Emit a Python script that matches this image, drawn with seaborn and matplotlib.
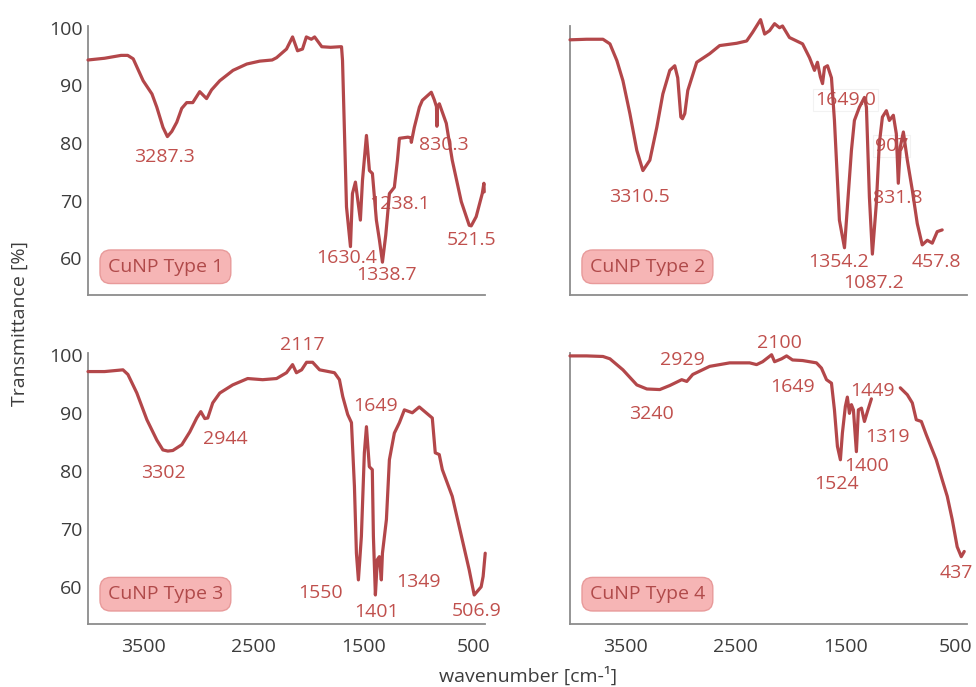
import matplotlib
matplotlib.use("Agg")
import matplotlib.pyplot as plt
import seaborn as sns
import pandas as pd

# ---------------- data ----------------
wn_type1 = [4000, 3850, 3700, 3640, 3590, 3500, 3420, 3376, 3320, 3280, 3240, 3195, 3150, 3105, 3050,
            2987, 2925, 2880, 2805, 2685, 2560, 2443, 2330, 2290, 2200, 2145, 2100, 2055, 2020, 1975,
            1945, 1880, 1800, 1715, 1701, 1692, 1656, 1620, 1602, 1575, 1530, 1511, 1475, 1448, 1421,
            1385, 1357, 1330, 1300, 1285, 1267, 1222, 1194, 1176, 1100, 1072, 1068, 1041, 995, 968,
            887, 860, 840, 836, 832, 814, 751, 697, 615, 543, 525, 480, 425, 410, 407]
tr_type1 = [94.4, 94.7, 95.2, 95.2, 94.6, 90.8, 88.5, 86.2, 82.7, 81.1, 82.0, 83.6, 86.0, 87.0, 87.0,
            88.9, 87.7, 89.2, 90.8, 92.6, 93.7, 94.2, 94.4, 94.8, 96.3, 98.4, 96.0, 96.3, 98.4, 98.0,
            98.4, 96.7, 96.6, 96.7, 96.7, 94.3, 68.9, 62.0, 71.2, 73.2, 66.6, 73.5, 81.3, 75.2, 74.7,
            66.6, 63.1, 59.3, 64.0, 67.2, 71.2, 72.3, 77.0, 80.8, 81.0, 80.9, 80.1, 82.7, 86.2, 87.4,
            88.8, 87.5, 86.3, 82.9, 86.3, 86.8, 83.4, 77.0, 69.8, 65.7, 65.6, 67.2, 71.2, 73.0, 71.5]

wn_type2 = [4000, 3850, 3701, 3638, 3575, 3520, 3457, 3394, 3339, 3276, 3213, 3158, 3095, 3050, 3023,
            2995, 2980, 2959, 2932, 2851, 2733, 2643, 2489, 2398, 2344, 2272, 2235, 2190, 2145, 2100,
            2073, 2010, 1891, 1828, 1783, 1756, 1730, 1710, 1692, 1665, 1629, 1602, 1557, 1511, 1448,
            1421, 1376, 1330, 1312, 1285, 1258, 1222, 1195, 1167, 1131, 1104, 1068, 1041, 1023, 1005,
            977, 941, 896, 851, 806, 760, 715, 670, 625]
tr_type2 = [97.9, 98.0, 98.0, 97.2, 94.3, 90.8, 85.1, 78.7, 75.2, 77.0, 82.7, 88.5, 92.6, 93.4, 91.3,
            84.5, 84.2, 85.1, 89.1, 94.0, 95.5, 96.9, 97.3, 97.7, 99.2, 101.4, 98.9, 99.5, 100.7, 100.0,
            100.3, 98.3, 97.2, 94.8, 92.6, 94.0, 91.5, 90.3, 93.1, 93.4, 91.3, 83.9, 66.6, 61.8, 78.7,
            83.9, 86.2, 87.9, 86.2, 70.6, 60.7, 69.5, 79.9, 84.5, 85.6, 83.9, 84.8, 81.6, 73.0, 79.3,
            81.9, 77.0, 71.8, 66.0, 62.3, 63.1, 62.6, 64.6, 64.9]

wn_type3 = [4000, 3850, 3683, 3638, 3557, 3466, 3376, 3321, 3276, 3231, 3149, 3077, 3014, 2977, 2941,
            2914, 2869, 2805, 2688, 2552, 2416, 2290, 2200, 2145, 2110, 2063, 2018, 1963, 1900, 1765,
            1720, 1690, 1645, 1611, 1584, 1566, 1548, 1521, 1494, 1475, 1449, 1422, 1412, 1394, 1376,
            1358, 1340, 1330, 1294, 1267, 1222, 1176, 1131, 1059, 996, 878, 851, 815, 787, 697,
            606, 543, 498, 435, 417, 398]
tr_type3 = [97.1, 97.1, 97.4, 96.6, 93.4, 88.8, 85.3, 83.6, 83.4, 83.5, 84.5, 86.7, 89.1, 90.2, 89.0,
            89.1, 91.7, 93.4, 94.8, 95.9, 95.7, 95.9, 96.9, 98.3, 96.9, 97.4, 98.7, 98.7, 97.4, 96.9,
            95.7, 92.8, 89.7, 88.3, 77.3, 65.8, 61.2, 68.7, 83.1, 87.6, 80.7, 80.2, 68.7, 58.6, 64.7,
            65.2, 61.2, 65.8, 71.6, 81.9, 86.5, 88.3, 90.5, 90.0, 91.0, 89.1, 83.1, 82.8, 80.2, 75.6,
            68.1, 62.9, 58.6, 60.0, 61.8, 65.8]

wn_type4 = [4000, 3850, 3701, 3638, 3520, 3394, 3303, 3186, 3095, 2987, 2941, 2887, 2733, 2552, 2371,
            2308, 2253, 2172, 2145, 2081, 2036, 1982, 1891, 1765, 1720, 1674, 1629, 1602, 1575, 1548,
            1530, 1503, 1485, 1466, 1448, 1430, 1403, 1385, 1357, 1330, 1303, 1267,
            1005, 941, 896, 860, 814, 769, 679, 624, 579, 534, 489, 452, 425]
tr_type4 = [99.8, 99.8, 99.7, 99.3, 97.4, 94.8, 94.1, 94.0, 94.7, 95.7, 95.4, 96.6, 98.0, 98.6, 98.6,
            98.3, 98.8, 100.0, 98.8, 99.3, 99.8, 99.1, 99.0, 98.6, 97.7, 95.7, 95.1, 90.5, 84.2, 81.9,
            86.5, 91.1, 92.7, 89.9, 91.4, 90.5, 83.3, 90.5, 90.8, 88.5, 90.2, 92.4,
            94.3, 93.1, 91.7, 88.8, 88.5, 86.2, 81.9, 78.4, 75.6, 71.6, 66.9, 65.2, 66.1]
seg_type4 = [0] * 42 + [1] * 13

names = ["CuNP Type 1", "CuNP Type 2", "CuNP Type 3", "CuNP Type 4"]

lab_type1 = ["3287.3", "830.3", "1238.1", "1630.4", "1338.7", "521.5"]
lab_wn_type1 = [3303, 769, 1176, 1656, 1294, 525]
lab_tr_type1 = [77.5, 79.6, 69.4, 60.0, 57.1, 63.1]

lab_type2 = ["3310.5", "1649.0", "907", "831.8", "1354.2", "1087.2", "457.8"]
lab_wn_type2 = [3366, 1502, 1086, 1032, 1566, 1249, 679]
lab_tr_type2 = [70.6, 87.4, 79.4, 70.4, 59.3, 55.7, 59.3]

lab_type3 = ["2117", "2944", "3302", "1649", "1550", "1401", "1349", "506.9"]
lab_wn_type3 = [2054, 2751, 3312, 1394, 1891, 1385, 1005, 480]
lab_tr_type3 = [101.7, 85.5, 79.6, 91.2, 58.9, 55.6, 60.8, 55.8]

lab_type4 = ["2100", "2929", "3240", "1649", "1449", "1319", "1400", "1524", "437"]
lab_wn_type4 = [2100, 2977, 3258, 1982, 1258, 1122, 1312, 1584, 500]
lab_tr_type4 = [102.1, 99.1, 89.8, 94.4, 93.8, 85.9, 80.9, 77.8, 62.4]

x_ticks = [3500, 2500, 1500, 500]
y_ticks = [60, 70, 80, 90, 100]

# ---------------- style ----------------
sns.set_theme(style="white")
plt.rcParams["font.family"] = ["Open Sans", "DejaVu Sans"]

LINE = "#b3474a"
ANNOT = "#c0504d"
TICK = "#3c3c3c"
SPINE = "#8c8c8c"

fig = plt.figure(figsize=(9.76, 6.87), dpi=100)
W, H = 976, 687
col_left = [88, 570]
col_right = [485, 967]
row_top = [26, 353]
row_bot = [295, 624]

panels = [
    (wn_type1, tr_type1, [0] * len(wn_type1), lab_type1, lab_wn_type1, lab_tr_type1),
    (wn_type2, tr_type2, [0] * len(wn_type2), lab_type2, lab_wn_type2, lab_tr_type2),
    (wn_type3, tr_type3, [0] * len(wn_type3), lab_type3, lab_wn_type3, lab_tr_type3),
    (wn_type4, tr_type4, seg_type4, lab_type4, lab_wn_type4, lab_tr_type4),
]

for i, (wn, tr, seg, labs, lwn, ltr) in enumerate(panels):
    r, c = divmod(i, 2)
    x0 = col_left[c] / W
    w = (col_right[c] - col_left[c]) / W
    y0 = 1 - row_bot[r] / H
    h = (row_bot[r] - row_top[r]) / H
    ax = fig.add_axes([x0, y0, w, h])
    df = pd.DataFrame({"wn": wn, "T": tr, "seg": seg})
    sns.lineplot(data=df, x="wn", y="T", units="seg", estimator=None, sort=False,
                 color=LINE, lw=2.3, ax=ax, clip_on=False, legend=False, zorder=3)
    ax.set_xlim(4000, 400)
    ax.set_ylim(53.6, 100.3)
    ax.set_xlabel("")
    ax.set_ylabel("")
    for s in ["top", "right"]:
        ax.spines[s].set_visible(False)
    for s in ["left", "bottom"]:
        ax.spines[s].set_color(SPINE)
        ax.spines[s].set_linewidth(1.3)
    ax.set_xticks(x_ticks)
    ax.set_yticks(y_ticks)
    ax.tick_params(axis="both", length=0, labelsize=14, labelcolor=TICK)
    ax.tick_params(axis="x", pad=10)
    ax.tick_params(axis="y", pad=4)
    if r == 0:
        ax.set_xticklabels([])
    else:
        ax.set_xticklabels([str(v) for v in x_ticks])
    if c == 1:
        ax.set_yticklabels([])
    else:
        ax.set_yticklabels([str(v) for v in y_ticks])

    for t, xw, yt in zip(labs, lwn, ltr):
        kw = {}
        if t in ("1649.0", "907"):
            kw["bbox"] = dict(boxstyle="square,pad=0.1", facecolor="white",
                              edgecolor="#f2f2f2", linewidth=0.8)
        ax.text(xw, yt, t, color=ANNOT, fontsize=14, ha="center", va="center",
                zorder=2, **kw)

    ax.text(0.195, 0.105 if r == 0 else 0.11, names[i], transform=ax.transAxes,
            fontsize=14, color="#b04a4a", ha="center", va="center", zorder=4,
            bbox=dict(boxstyle="round,pad=0.4,rounding_size=0.55",
                      facecolor="#f6b5b5", edgecolor="#e89a9a", linewidth=1.0))

fig.text(20 / W, 1 - 324 / H, "Transmittance [%]", rotation=90, fontsize=14,
         color=TICK, ha="center", va="center")
fig.text(528 / W, 1 - 676 / H, "wavenumber [cm-¹]", fontsize=14,
         color=TICK, ha="center", va="center")

fig.savefig("out.png", dpi=100)
